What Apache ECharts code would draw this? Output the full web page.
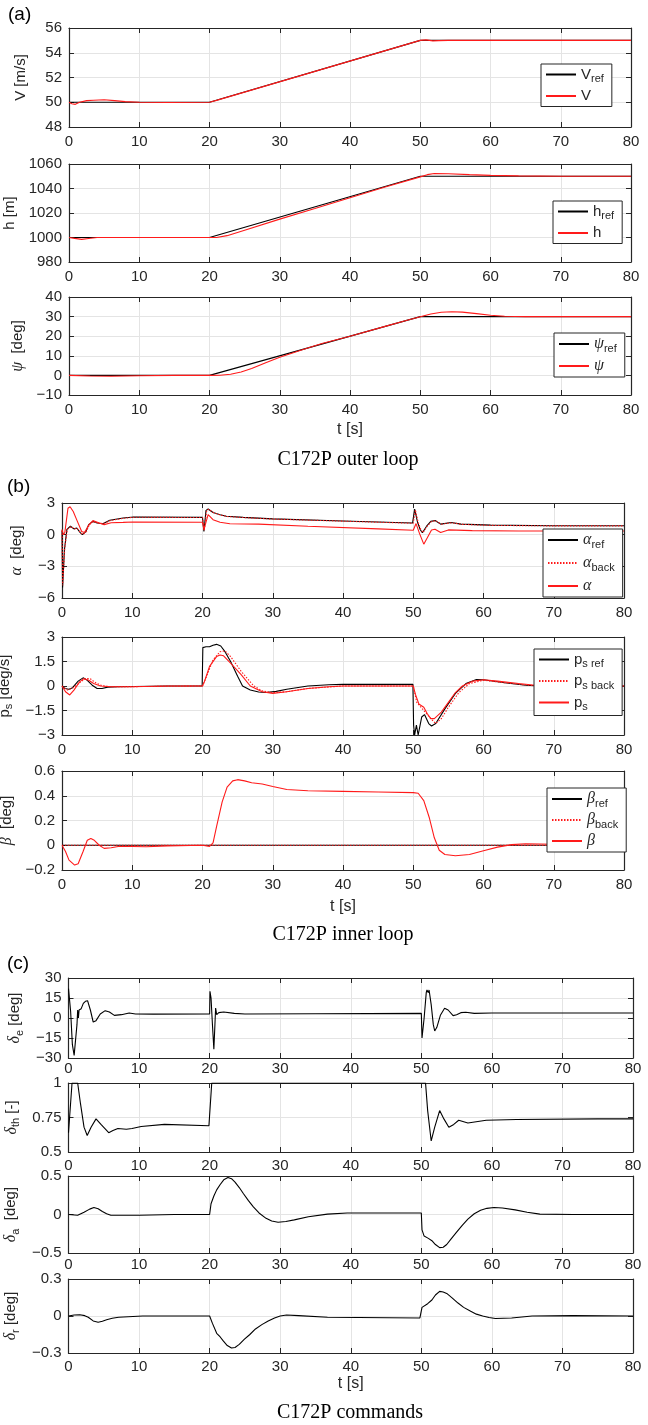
<!DOCTYPE html>
<html>
<head>
<meta charset="utf-8">
<script src="https://cdn.jsdelivr.net/npm/echarts@6.0.0/dist/echarts.min.js"></script>
<style>
  html, body { margin: 0; padding: 0; background: #fff; }
  #chart { width: 648px; height: 1425px; }
</style>
</head>
<body>
<div id="chart"></div>
<script>
// ---------- time axis ----------
const tTicks = [0, 10, 20, 30, 40, 50, 60, 70, 80];

// ---------- (a) outer loop ----------
const vTicks = [48, 50, 52, 54, 56];
const vRef = [[0, 50], [20, 50], [50, 55], [80, 55]];
const vOut = [[0, 50], [0.4, 49.88], [0.9, 49.83], [1.5, 50.0], [2.5, 50.13], [3.5, 50.16], [5, 50.2], [6.5, 50.13],
  [8, 50.05], [10, 50.0], [14, 49.98], [20, 50], [21, 50.15], [50, 55], [50.8, 55.04], [51.8, 54.96], [52.6, 54.98],
  [54, 55], [80, 55]];

const hTicks = [980, 1000, 1020, 1040, 1060];
const hRef = [[0, 1000], [20, 1000], [50, 1050], [80, 1050]];
const hOut = [[0, 1000], [0.8, 999.3], [1.8, 998.5], [2.8, 999.2], [4, 1000], [20, 1000], [21, 1000], [22.5, 1001.5],
  [25, 1006], [30, 1015], [35, 1023.7], [40, 1032.5], [45, 1041.2], [50, 1049.5], [51, 1051.3], [52, 1052.2],
  [54, 1052], [57, 1051.3], [60, 1050.7], [64, 1050.3], [70, 1050], [80, 1050]];

const psiTicks = [-10, 0, 10, 20, 30, 40];
const psiRef = [[0, 0], [20, 0], [50, 30], [80, 30]];
const psiOut = [[0, 0], [3, -0.3], [6, -0.4], [10, -0.2], [15, 0], [20, 0], [21.5, 0.1], [23, 0.6], [24.5, 1.7],
  [26, 3.5], [28, 6.5], [30, 9.3], [33, 12.8], [36, 16.3], [40, 20], [45, 25], [48, 28], [50, 29.9], [51.5, 31.3],
  [53, 32.2], [54.5, 32.5], [56, 32.3], [58, 31.5], [60, 30.7], [62, 30.2], [65, 30], [80, 30]];

// ---------- (b) inner loop ----------
const alphaTicks = [-6, -3, 0, 3];
const alphaRef = [[0, 0.4], [0.08, -5], [0.35, -1.4], [0.7, 0.5], [1.2, 0.8], [1.7, 0.55], [2.1, 0.63], [2.6, 0.2],
  [2.9, 0], [3.4, 0.3], [3.8, 0.95], [4.4, 1.26], [5.0, 1.1], [5.8, 1.04], [6.8, 1.36], [8.7, 1.58], [10.2, 1.67],
  [20, 1.64], [20.2, 0.3], [20.5, 2.3], [20.8, 2.43], [21.5, 2.1], [22.5, 1.88], [23.4, 1.74], [25.8, 1.64],
  [30, 1.5], [40, 1.3], [49.9, 1.1], [50.2, 2.43], [50.6, 1.2], [51, 0.47], [51.3, 0.18], [51.9, 0.8],
  [52.5, 1.26], [53.1, 1.35], [53.9, 1.0], [55.4, 1.15], [56.8, 1.0], [61, 0.9], [70, 0.85], [80, 0.85]];
const alphaBack = [[0, 0.4], [0.1, -4.8], [0.4, -1.2], [0.75, 0.5], [1.25, 0.78], [1.75, 0.55], [2.15, 0.6],
  [2.7, 0.15], [3, 0.02], [3.5, 0.32], [3.9, 0.95], [4.5, 1.24], [5.1, 1.1], [5.9, 1.04], [6.9, 1.34], [8.8, 1.56],
  [10.3, 1.65], [20, 1.62], [20.25, 0.35], [20.6, 2.3], [20.9, 2.4], [21.6, 2.07], [22.6, 1.86], [23.5, 1.72],
  [25.9, 1.62], [30, 1.48], [40, 1.28], [50, 1.08], [50.3, 2.35], [50.7, 1.15], [51.1, 0.45], [51.4, 0.2],
  [52, 0.82], [52.6, 1.25], [53.2, 1.33], [54, 1.0], [55.5, 1.13], [56.9, 0.98], [61, 0.88], [70, 0.83], [80, 0.83]];
const alphaOut = [[0, 0.5], [0.2, 0], [0.4, 0.2], [0.85, 2.5], [1.15, 2.65], [1.6, 2.2], [2.1, 1.4], [2.8, 0.3],
  [3.2, 0.2], [3.9, 1.0], [4.4, 1.33], [5.3, 1.1], [6, 0.95], [7, 1.13], [8.7, 1.16], [10.1, 1.2], [20, 1.18],
  [20.2, 0.47], [20.8, 1.9], [21.5, 1.42], [22.5, 1.17], [23.9, 1.04], [28, 1.0], [35, 0.8], [45, 0.55], [50, 0.42],
  [50.4, 1.05], [50.9, 0.1], [51.5, -0.9], [52, -0.3], [52.6, 0.45], [53.1, 0.52], [53.9, 0.2], [55, 0.45],
  [58.4, 0.38], [65, 0.35], [80, 0.35]];

const psTicks = [-3, -1.5, 0, 1.5, 3];
const psRef = [[0, 0], [0.4, -0.15], [1, -0.2], [1.5, -0.1], [2.3, 0.3], [3, 0.5], [3.6, 0.35], [4.3, 0.05],
  [5, -0.15], [5.7, -0.15], [6.5, -0.07], [8, -0.05], [15, 0], [19.95, 0], [20.05, 2.35], [20.5, 2.4], [21, 2.4],
  [21.5, 2.5], [22, 2.55], [22.6, 2.45], [23.2, 2.1], [24, 1.5], [25, 0.6], [25.7, 0], [26.8, -0.25], [28, -0.37],
  [29, -0.4], [30.5, -0.33], [32, -0.2], [35, 0], [38, 0.08], [40, 0.1], [49.95, 0.1], [50.05, -2.4], [50.2, -3],
  [50.45, -2.4], [50.7, -3], [51.2, -1.9], [51.6, -1.75], [52.2, -2.3], [52.6, -2.45], [53.2, -2.3], [54.5, -1.4],
  [56, -0.45], [57.5, 0.15], [59, 0.4], [60, 0.38], [63, 0.2], [66, 0.05], [70, -0.05], [75, 0], [80, 0]];
const psBack = [[0, 0], [0.8, -0.25], [1.6, -0.1], [2.5, 0.2], [3.3, 0.45], [4, 0.45], [4.8, 0.2], [5.7, 0.02],
  [7, -0.05], [20, 0], [20.5, 0.5], [21.5, 1.6], [22.5, 2.1], [23.2, 2.15], [24, 1.8], [25.5, 0.9], [27.3, 0],
  [28.5, -0.3], [30, -0.4], [32, -0.35], [35, -0.15], [40, 0], [50, 0], [50.5, -1], [51.5, -1.5], [52.5, -2],
  [53.2, -2.3], [54, -2], [55, -1.3], [56.5, -0.4], [58, 0.15], [60, 0.35], [63, 0.2], [67, 0.03], [70, 0], [80, 0]];
const psOut = [[0, 0], [0.5, -0.35], [1.1, -0.55], [1.7, -0.25], [2.5, 0.25], [3.1, 0.45], [3.8, 0.35], [4.5, 0.15],
  [5.5, 0], [7, -0.05], [10, -0.05], [15, 0], [20, 0], [20.3, 0.3], [21, 1.2], [22, 1.8], [22.5, 1.9], [23, 1.85],
  [24, 1.4], [25.5, 0.7], [26.8, 0], [28.5, -0.35], [30, -0.45], [32, -0.35], [35, -0.15], [38, -0.05], [40, 0],
  [50, 0], [50.3, -0.5], [50.8, -1.1], [51.5, -1.3], [52, -1.7], [52.5, -2], [53, -2], [54, -1.6], [55, -1],
  [56, -0.4], [57, 0], [58.5, 0.3], [60, 0.38], [62, 0.3], [65, 0.15], [68, 0.02], [70, 0], [80, 0]];

const betaTicks = [-0.2, 0, 0.2, 0.4, 0.6];
const betaRef = [[0, 0], [80, 0]];
const betaBack = [[0, 0], [80, 0]];
const betaOut = [[0, 0], [0.5, -0.05], [1, -0.12], [1.8, -0.16], [2.3, -0.15], [3, -0.05], [3.6, 0.04], [4.1, 0.055],
  [4.6, 0.04], [5.3, 0], [6, -0.025], [7, -0.02], [8, -0.01], [10, -0.01], [12, -0.012], [15, -0.005], [20, 0],
  [21, -0.01], [21.5, 0.02], [22, 0.15], [22.8, 0.35], [23.5, 0.47], [24.3, 0.52], [25, 0.53], [26, 0.52],
  [27, 0.505], [28.5, 0.495], [30, 0.475], [32, 0.45], [35, 0.44], [40, 0.435], [45, 0.43], [50, 0.425],
  [50.7, 0.42], [51.5, 0.36], [52.3, 0.22], [53, 0.06], [53.7, -0.04], [54.5, -0.075], [56, -0.085], [58, -0.075],
  [60, -0.045], [62, -0.015], [64, 0.005], [66, 0.012], [70, 0.008], [75, 0], [80, 0]];

// ---------- (c) commands ----------
const deTicks = [-30, -15, 0, 15, 30];
const deCmd = [[0, 22], [0.15, 23], [0.3, 5], [0.55, -20], [0.8, -28], [1.0, -27], [1.2, -5], [1.3, 6], [1.4, 0],
  [1.5, 6], [1.8, 7], [2.1, 11], [2.4, 12.5], [2.7, 13], [3.1, 6], [3.5, -3], [3.9, -2], [4.5, 3], [5.2, 5.5],
  [5.8, 4.5], [6.5, 2], [7.5, 2.5], [8.6, 3.7], [9.5, 3], [12, 2.9], [20, 3], [20.05, 20], [20.2, 15], [20.4, -5],
  [20.6, -23.5], [20.75, -5], [20.85, 7.5], [21, 2.5], [21.3, 4], [22, 4.5], [23.5, 3.5], [25, 3], [35, 3.2],
  [50, 3.5], [50.1, -15], [50.3, -15.2], [50.4, 0], [50.7, 19], [50.8, 21], [51, 19], [51.1, 21], [51.4, 10],
  [51.7, -5], [51.9, -9.75], [52.2, -7], [52.7, 2], [53.3, 7.3], [53.8, 6], [54.5, 1.8], [55, 2.5], [55.6, 4],
  [56.3, 4.3], [57.5, 3.5], [60, 3.8], [80, 3.8]];

const dthTicks = [0.5, 0.75, 1];
const dthCmd = [[0, 0.64], [0.5, 1], [1.3, 1], [1.7, 0.85], [2.2, 0.68], [2.65, 0.62], [3.2, 0.68], [3.9, 0.74],
  [4.6, 0.7], [5.7, 0.64], [6.3, 0.655], [7, 0.67], [8.2, 0.665], [9, 0.67], [10.3, 0.685], [13.6, 0.70],
  [19.9, 0.69], [20.3, 1], [50.6, 1], [50.9, 0.8], [51.4, 0.58], [51.9, 0.68], [52.6, 0.80], [53.2, 0.74],
  [53.9, 0.68], [54.6, 0.7], [55.3, 0.73], [56.6, 0.71], [59.2, 0.73], [63.5, 0.735], [75, 0.74], [80, 0.74]];

const daTicks = [-0.5, 0, 0.5];
const daCmd = [[0, 0], [1.3, -0.01], [2.2, 0.03], [3, 0.07], [3.6, 0.09], [4.2, 0.075], [4.8, 0.04], [5.4, 0.01],
  [6, -0.01], [10, -0.01], [15, 0], [20, 0], [20.2, 0.14], [20.6, 0.24], [21, 0.32], [21.5, 0.39], [22, 0.45],
  [22.6, 0.48], [23.1, 0.465], [23.6, 0.42], [24.2, 0.35], [24.8, 0.27], [25.5, 0.18], [26.2, 0.1], [27, 0.02],
  [28, -0.05], [28.8, -0.085], [29.7, -0.1], [30.8, -0.09], [32, -0.07], [34, -0.03], [36.7, 0.005], [39.5, 0.02],
  [50, 0.02], [50.1, -0.2], [50.4, -0.28], [51, -0.31], [51.5, -0.34], [52, -0.39], [52.6, -0.43], [53.1, -0.425],
  [53.6, -0.39], [54.2, -0.32], [55, -0.23], [55.8, -0.14], [56.6, -0.06], [57.5, 0.01], [58.4, 0.055], [59.3, 0.08],
  [60.3, 0.09], [61.5, 0.085], [63.3, 0.06], [65, 0.03], [66.8, 0.005], [71.5, 0], [80, 0]];

const drTicks = [-0.3, 0, 0.3];
const drCmd = [[0, 0], [0.8, 0.008], [1.6, 0.01], [2.3, 0.003], [2.8, -0.01], [3.5, -0.04], [4.2, -0.05],
  [4.8, -0.042], [5.4, -0.03], [6.2, -0.018], [7.1, -0.01], [10.5, 0], [20, 0], [20.4, -0.06], [21, -0.14],
  [21.5, -0.17], [21.9, -0.2], [22.5, -0.24], [23.1, -0.26], [23.6, -0.255], [24.2, -0.23], [24.9, -0.19],
  [25.7, -0.15], [26.5, -0.105], [27.4, -0.07], [28.3, -0.04], [29.2, -0.016], [30, 0], [30.9, 0.008],
  [32.6, 0.003], [36.7, -0.01], [49.8, -0.016], [50.1, 0.07], [50.9, 0.1], [51.5, 0.13], [52, 0.17], [52.6, 0.2],
  [53.1, 0.195], [53.6, 0.183], [54.4, 0.145], [55.2, 0.105], [56, 0.07], [57, 0.038], [57.8, 0.015], [58.7, 0],
  [59.6, -0.012], [60.5, -0.02], [62.8, -0.016], [65.7, 0], [71.5, 0.003], [80, 0]];

// ---------- styling ----------
const SANS = "'Liberation Sans', Arial, Helvetica, sans-serif";
const SERIF = "'Liberation Serif', 'Times New Roman', serif";
const AX = '#262626';
const GRID = '#e4e4e4';
const RED = '#ff1a1a';
const BLACK = '#000000';
const FS = 15;

const richText = {
  b: { fontFamily: SANS, fontSize: FS, color: AX },
  g: { fontFamily: SERIF, fontStyle: 'italic', fontSize: 16, color: AX },
  s: { fontFamily: SANS, fontSize: 11, color: AX, padding: [9, 0, 0, 0] }
};

// panel layout: plot rectangles in pixels; series entries are [name, data, colour, dash]
const panels = [
  { L: 69, R: 631, T: 28, B: 127, ticks: vTicks, yName: '{b|V [m/s]}', gap: 41, xGap: 7,
    series: [['Vref', vRef, BLACK, 'solid'], ['V', vOut, RED, 'solid']],
    legend: { left: 541, top: 64, itemGap: 4 } },
  { L: 69, R: 631, T: 164, B: 262, ticks: hTicks, yName: '{b|h [m]}', gap: 41, xGap: 7,
    series: [['href', hRef, BLACK, 'solid'], ['h', hOut, RED, 'solid']],
    legend: { left: 553, top: 201, itemGap: 4 } },
  { L: 69, R: 631, T: 297, B: 395, ticks: psiTicks, yName: '{g|ψ}{b|  [deg]}', gap: 41, xGap: 7, tName: 27,
    series: [['psiref', psiRef, BLACK, 'solid'], ['psi', psiOut, RED, 'solid']],
    legend: { left: 554, top: 333, itemGap: 4 } },
  { L: 62, R: 624, T: 503, B: 598, ticks: alphaTicks, yName: '{g|α}{b|  [deg]}', gap: 37, xGap: 7,
    series: [['alpharef', alphaRef, BLACK, 'solid'], ['alphaback', alphaBack, RED, 'dotted'],
      ['alpha', alphaOut, RED, 'solid']],
    legend: { left: 543, top: 529, itemGap: 5 } },
  { L: 62, R: 624, T: 637, B: 735, ticks: psTicks, yName: '{b|p}{s|s}{b| [deg/s]}', gap: 37, xGap: 7,
    series: [['psref', psRef, BLACK, 'solid'], ['psback', psBack, RED, 'dotted'], ['ps', psOut, RED, 'solid']],
    legend: { left: 534, top: 649, itemGap: 4 } },
  { L: 62, R: 624, T: 771, B: 870, ticks: betaTicks, yName: '{g|β}{b|  [deg]}', gap: 37, xGap: 7, tName: 29,
    series: [['betaref', betaRef, BLACK, 'solid'], ['betaback', betaBack, RED, 'dotted'],
      ['beta', betaOut, RED, 'solid']],
    legend: { left: 547, top: 788, itemGap: 3 } },
  { L: 68.5, R: 633, T: 978, B: 1058, ticks: deTicks, yName: '{g|δ}{s|e}{b| [deg]}', gap: 42, xGap: 3,
    series: [['de', deCmd, BLACK, 'solid']] },
  { L: 68.5, R: 633, T: 1083, B: 1152, ticks: dthTicks, yName: '{g|δ}{s|th}{b| [-]}', gap: 42, xGap: 6,
    series: [['dth', dthCmd, BLACK, 'solid']] },
  { L: 68.5, R: 633, T: 1176, B: 1253, ticks: daTicks, yName: '{g|δ}{s|a}{b|  [deg]}', gap: 42, xGap: 4,
    series: [['da', daCmd, BLACK, 'solid']] },
  { L: 68.5, R: 633, T: 1279, B: 1353, ticks: drTicks, yName: '{g|δ}{s|r}{b| [deg]}', gap: 42, xGap: 6, tName: 23,
    series: [['dr', drCmd, BLACK, 'solid']] }
];

const legendLabels = {
  Vref: '{b|V}{s|ref}', V: '{b|V}',
  href: '{b|h}{s|ref}', h: '{b|h}',
  psiref: '{g|ψ}{s|ref}', psi: '{g|ψ}',
  alpharef: '{g|α}{s|ref}', alphaback: '{g|α}{s|back}', alpha: '{g|α}',
  psref: '{b|p}{s|s ref}', psback: '{b|p}{s|s back}', ps: '{b|p}{s|s}',
  betaref: '{g|β}{s|ref}', betaback: '{g|β}{s|back}', beta: '{g|β}'
};

function fmt(v) {
  const r = Math.round(v * 1000) / 1000;
  return r < 0 ? '\u2212' + Math.abs(r) : String(r);
}

const grids = [], xAxes = [], yAxes = [], series = [], legends = [];

panels.forEach((p, i) => {
  grids.push({ left: p.L, top: p.T, width: p.R - p.L, height: p.B - p.T, containLabel: false, outerBoundsMode: 'none' });
  const yMin = p.ticks[0], yMax = p.ticks[p.ticks.length - 1], yStep = p.ticks[1] - p.ticks[0];
  const tickStyle = { show: true, inside: true, length: 5, lineStyle: { color: AX, width: 1 } };
  const lineStyle = { show: true, onZero: false, lineStyle: { color: AX, width: 1.2 } };
  xAxes.push({
    gridIndex: i, type: 'value', position: 'bottom',
    min: tTicks[0], max: tTicks[tTicks.length - 1], interval: tTicks[1] - tTicks[0],
    axisLine: lineStyle, axisTick: tickStyle,
    axisLabel: { margin: p.xGap, fontFamily: SANS, fontSize: FS, color: AX, formatter: fmt, showMinLabel: true, showMaxLabel: true },
    splitLine: { show: true, lineStyle: { color: GRID, width: 1 } },
    name: p.tName ? 't [s]' : '', nameLocation: 'middle', nameGap: p.tName || 0,
    nameTextStyle: { fontFamily: SANS, fontSize: 16, color: AX }
  });
  xAxes.push({
    gridIndex: i, type: 'value', position: 'top',
    min: tTicks[0], max: tTicks[tTicks.length - 1], interval: tTicks[1] - tTicks[0],
    axisLine: lineStyle, axisTick: tickStyle, axisLabel: { show: false }, splitLine: { show: false }
  });
  yAxes.push({
    gridIndex: i, type: 'value', position: 'left', min: yMin, max: yMax, interval: yStep,
    axisLine: lineStyle, axisTick: tickStyle,
    axisLabel: { margin: 7, fontFamily: SANS, fontSize: FS, color: AX, formatter: fmt, showMinLabel: true, showMaxLabel: true },
    splitLine: { show: true, lineStyle: { color: GRID, width: 1 } },
    name: p.yName, nameLocation: 'middle', nameRotate: 90, nameGap: p.gap,
    nameTextStyle: { fontFamily: SANS, fontSize: FS, color: AX, rich: richText }
  });
  yAxes.push({
    gridIndex: i, type: 'value', position: 'right', min: yMin, max: yMax, interval: yStep,
    axisLine: lineStyle, axisTick: tickStyle, axisLabel: { show: false }, splitLine: { show: false }
  });
  p.series.forEach(([name, data, color, type]) => {
    series.push({
      type: 'line', name, data, xAxisIndex: 2 * i, yAxisIndex: 2 * i,
      symbol: 'none', showSymbol: false, smooth: false,
      lineStyle: { color, width: 1.1, type: type === 'dotted' ? [1.5, 1.5] : 'solid' },
      itemStyle: { color }, animation: false
    });
  });
  if (p.legend) {
    legends.push({
      data: p.series.map(s => s[0]), orient: 'vertical', left: p.legend.left, top: p.legend.top,
      itemWidth: 30, itemHeight: 10, itemGap: p.legend.itemGap, padding: [3, 8, 3, 4],
      backgroundColor: '#fff', borderColor: AX, borderWidth: 1, borderRadius: 0,
      selectedMode: false, z: 10,
      itemStyle: { opacity: 0 },
      textStyle: { fontFamily: SANS, fontSize: FS, color: AX, rich: richText },
      formatter: n => legendLabels[n]
    });
  }
});

const labelFont = '19px ' + SANS;
const titleFont = '20px ' + SERIF;
const graphics = [
  { type: 'text', x: 8, y: 15, style: { text: '(a)', font: labelFont, fill: '#000', verticalAlign: 'middle' } },
  { type: 'text', x: 7, y: 487, style: { text: '(b)', font: labelFont, fill: '#000', verticalAlign: 'middle' } },
  { type: 'text', x: 7, y: 964, style: { text: '(c)', font: labelFont, fill: '#000', verticalAlign: 'middle' } },
  { type: 'text', x: 348, y: 460, style: { text: 'C172P outer loop', font: titleFont, fill: '#000', align: 'center', verticalAlign: 'middle' } },
  { type: 'text', x: 343, y: 935, style: { text: 'C172P inner loop', font: titleFont, fill: '#000', align: 'center', verticalAlign: 'middle' } },
  { type: 'text', x: 350, y: 1413, style: { text: 'C172P commands', font: titleFont, fill: '#000', align: 'center', verticalAlign: 'middle' } }
];

const chart = echarts.init(document.getElementById('chart'), null, { renderer: 'canvas' });
chart.setOption({
  animation: false,
  backgroundColor: '#fff',
  grid: grids, xAxis: xAxes, yAxis: yAxes, series, legend: legends, graphic: graphics
});
</script>
</body>
</html>
